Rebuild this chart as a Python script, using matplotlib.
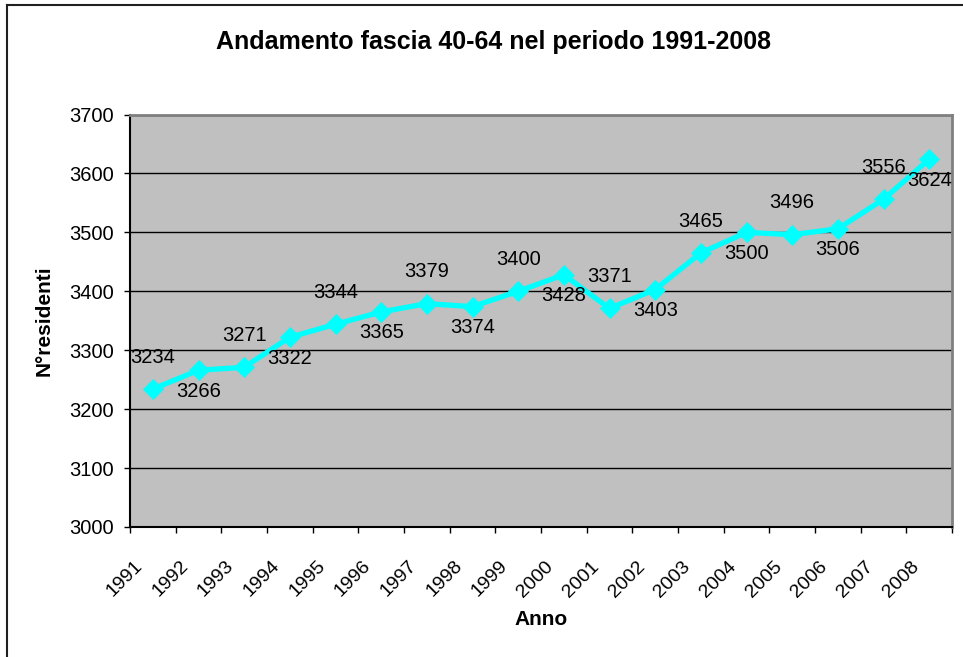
import matplotlib
matplotlib.use("Agg")
import matplotlib.pyplot as plt
from matplotlib.lines import Line2D
from matplotlib.transforms import ScaledTranslation
import numpy as np

plt.rcParams['font.family'] = ['Liberation Sans', 'DejaVu Sans']

# residenti fascia 40-64 per anno
anni = ['1991', '1992', '1993', '1994', '1995', '1996', '1997', '1998', '1999',
        '2000', '2001', '2002', '2003', '2004', '2005', '2006', '2007', '2008']
residenti = [3234, 3266, 3271, 3322, 3344, 3365, 3379, 3374, 3400,
             3428, 3371, 3403, 3465, 3500, 3496, 3506, 3556, 3624]
yticks = [3000, 3100, 3200, 3300, 3400, 3500, 3600, 3700]

fig = plt.figure(figsize=(9.63, 6.57), dpi=100)
ax = fig.add_axes([130 / 963, 1 - 527 / 657, 822 / 963, 412.5 / 657])
ax.set_facecolor('#C0C0C0')

x = np.arange(len(anni))
ax.plot(x, residenti, color='#00FFFF', lw=3.8, marker='D', ms=10.5,
        mec='#00FFFF', mew=0.5, zorder=3, clip_on=False)

# etichette alternate sopra / sotto il punto
for i, v in enumerate(residenti):
    dy = 23 if i % 2 == 0 else -15
    ax.annotate(str(v), (i, v), xytext=(0, dy), textcoords='offset points',
                ha='center', va='center', fontsize=14.5, color='black', zorder=4,
                annotation_clip=False)

ax.set_xlim(-0.5, len(anni) - 0.5)
ax.set_ylim(3000, 3700)
ax.set_yticks(yticks)
ax.yaxis.grid(True, color='black', lw=1)
ax.set_axisbelow(True)
ax.tick_params(axis='y', direction='out', length=4.5, width=1, pad=7, labelsize=14.5)

# tacche tra le categorie, etichette al centro
ax.set_xticks(np.arange(len(anni) + 1) - 0.5)
ax.set_xticklabels([])
ax.tick_params(axis='x', which='major', direction='out', length=4.5, width=1)
ax.set_xticks(x, minor=True)
ax.set_xticklabels(anni, minor=True, rotation=45, ha='right', va='top', fontsize=14)
ax.tick_params(axis='x', which='minor', length=0, pad=22)
shift = ScaledTranslation(-7 / 100, 0, fig.dpi_scale_trans)
for lab in ax.get_xticklabels(minor=True):
    lab.set_transform(lab.get_transform() + shift)

for side in ['top', 'right']:
    ax.spines[side].set_color('#808080')
    ax.spines[side].set_linewidth(2)
for side in ['left', 'bottom']:
    ax.spines[side].set_color('black')
    ax.spines[side].set_linewidth(1.5)

ax.set_xlabel('Anno', fontsize=15, fontweight='bold', labelpad=7)
ax.set_ylabel('N°residenti', fontsize=15, fontweight='bold', labelpad=11)
fig.text(493 / 963, 1 - 42 / 657, 'Andamento fascia 40-64 nel periodo 1991-2008',
         ha='center', va='center', fontsize=18, fontweight='bold')

# bordo dell'area del grafico
fig.add_artist(Line2D([6.5 / 963, 6.5 / 963], [0, 1 - 4.7 / 657], color='#202020', lw=1.5))
fig.add_artist(Line2D([6.5 / 963, 1], [1 - 4.7 / 657, 1 - 4.7 / 657], color='#202020', lw=1.5))

fig.savefig('out.png', dpi=100)
